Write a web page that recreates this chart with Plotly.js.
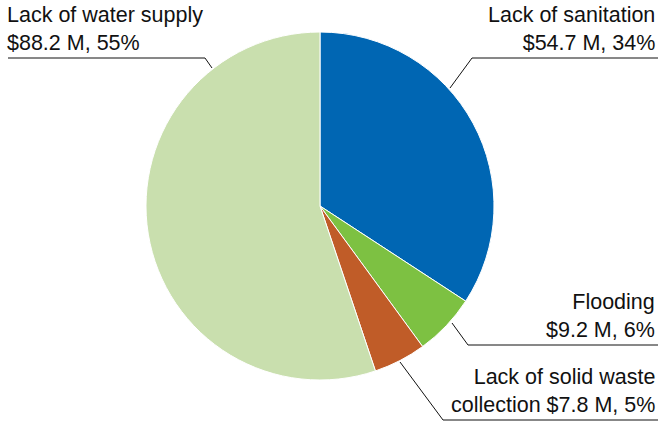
<!DOCTYPE html>
<html>
<head>
<meta charset="utf-8">
<script src="https://cdn.plot.ly/plotly-3.0.1.min.js"></script>
<style>html,body{margin:0;padding:0;background:#fff;}#chart{width:658px;height:422px;}</style>
</head>
<body>
<div id="chart"></div>
<script>
const categories = ["Lack of sanitation", "Flooding", "Lack of solid waste collection", "Lack of water supply"];
const valuesM = [54.7, 9.2, 7.8, 88.2];
const percentLabels = ["34%", "6%", "5%", "55%"];
const colors = ["#0066b3", "#7dc142", "#c05c28", "#c9dfae"];

const W = 658, H = 422;
const px = x => x / W;
const py = y => 1 - y / H;

function money(i) { return "$" + valuesM[i].toFixed(1) + " M, " + percentLabels[i]; }

const data = [{
  type: "pie",
  values: valuesM,
  labels: categories,
  sort: false,
  direction: "clockwise",
  rotation: 0,
  textinfo: "none",
  hoverinfo: "none",
  marker: { colors: colors, line: { color: "#ffffff", width: 1 } },
  domain: { x: [px(146), px(494)], y: [py(381), py(31)] },
  showlegend: false
}];

const font = { family: "Liberation Sans, Arial, Helvetica, sans-serif", size: 21.5, color: "#111" };

const annotations = [
  { text: categories[0] + "<br>" + money(0), x: px(657), y: py(57), xanchor: "right", yanchor: "bottom", align: "right" },
  { text: categories[1] + "<br>" + money(1), x: px(657), y: py(344), xanchor: "right", yanchor: "bottom", align: "right" },
  { text: "Lack of solid waste<br>collection " + money(2), x: px(657), y: py(419), xanchor: "right", yanchor: "bottom", align: "right" },
  { text: categories[3] + "<br>" + money(3), x: px(5), y: py(57), xanchor: "left", yanchor: "bottom", align: "left" }
].map(a => Object.assign({ xref: "paper", yref: "paper", showarrow: false, font: font }, a));

function path(pts) {
  return "M" + pts.map(p => px(p[0]) + "," + py(p[1])).join(" L");
}
const lineStyle = { color: "#111", width: 1 };
const shapes = [
  [[450, 88], [472, 58], [658, 58]],
  [[452, 323], [468, 345], [658, 345]],
  [[400, 362], [443, 420], [658, 420]],
  [[8, 58], [205, 58], [212, 68]]
].map(p => ({ type: "path", xref: "paper", yref: "paper", path: path(p), line: lineStyle }));

const layout = {
  width: W, height: H,
  margin: { l: 0, r: 0, t: 0, b: 0 },
  paper_bgcolor: "#ffffff",
  plot_bgcolor: "#ffffff",
  annotations: annotations,
  shapes: shapes,
  showlegend: false
};

Plotly.newPlot("chart", data, layout, { displayModeBar: false, staticPlot: true });
</script>
</body>
</html>
